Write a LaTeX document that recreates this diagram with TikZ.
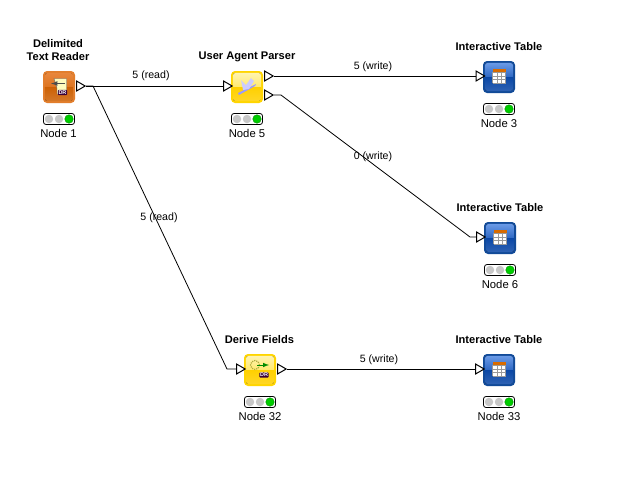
\documentclass[tikz,border=0pt]{standalone}
\usepackage{fontspec}
\setmainfont{Liberation Sans}
\usetikzlibrary{shapes.geometric,calc}
\definecolor{orA}{HTML}{E8873C}\definecolor{orB}{HTML}{DD7420}\definecolor{orC}{HTML}{CC6004}\definecolor{orE}{HTML}{E27E2C}
\definecolor{yeA}{HTML}{FFF4B0}\definecolor{yeB}{HTML}{FFE96E}\definecolor{yeC}{HTML}{FFD000}\definecolor{yeE}{HTML}{FFD500}
\definecolor{blA}{HTML}{6A9AE6}\definecolor{blB}{HTML}{2F68C4}\definecolor{blC}{HTML}{0A47A6}\definecolor{blE}{HTML}{114A98}
\tikzset{
  x=1pt,y=-1pt,
  iconbox/.style={draw=none,minimum size=32pt,inner sep=0pt,rounded corners=4pt},
  titlelabel/.style={font=\bfseries\fontsize{11.1}{13}\selectfont,inner sep=0pt,align=center,text=black},
  nodelabel/.style={font=\fontsize{11.3}{13}\selectfont,inner sep=0pt},
  edgelabel/.style={font=\fontsize{10.6}{12}\selectfont,inner sep=0pt},
  portin/.style={isosceles triangle,isosceles triangle apex angle=60,draw=black,fill=white,line width=1pt,inner sep=0pt,minimum height=8.5pt},
  wire/.style={draw=black,line width=.8pt},
  lightbox/.style={draw=black,fill=white,line width=.8pt,rounded corners=2.5pt,minimum width=31pt,minimum height=11pt,inner sep=0pt},
  lamp/.style={circle,inner sep=0pt,minimum size=8.5pt,fill=#1},
}
% name, centre x, centre y, colour prefix
\newcommand{\knimeicon}[4]{%
  \node[iconbox,fill=#4E] (#1) at (#2,#3) {};
  \begin{scope}
    \clip[rounded corners=3pt] ($(#1.north west)+(2,2)$) rectangle ($(#1.south east)+(-2,-2)$);
    \fill[top color=#4A,bottom color=#4B] ($(#1.north west)+(2,2)$) rectangle ($(#1.east)+(-2,0)$);
    \fill[top color=#4C,bottom color=#4C!85!white] ($(#1.west)+(2,0)$) rectangle ($(#1.south east)+(-2,-2)$);
  \end{scope}
}
\newcommand{\knimelight}[3]{%
  \node[lightbox] (#1) at (#2,#3) {};
  \node[lamp=black!22] (#1a) at ($(#1.center)+(-10,0)$) {};
  \node[lamp=black!22] (#1b) at ($(#1.center)+(0,0)$) {};
  \node[lamp=green!80!black,draw=green!55!black,line width=.4pt] (#1c) at ($(#1.center)+(10,0)$) {};
}
\newcommand{\tableglyph}[1]{%
  \fill[orange!85!black] ($(#1.center)+(-6.5,-8)$) rectangle ($(#1.center)+(6.5,-5)$);
  \fill[white] ($(#1.center)+(-6.5,-5)$) rectangle ($(#1.center)+(6.5,6)$);
  \foreach \dx in {-6.5,-2.2,2.2,6.5}
    \draw[black!40,line width=.4pt] ($(#1.center)+(\dx,-5)$) -- ($(#1.center)+(\dx,6)$);
  \foreach \dy in {-5,-1.3,2.3,6}
    \draw[black!40,line width=.4pt] ($(#1.center)+(-6.5,\dy)$) -- ($(#1.center)+(6.5,\dy)$);
}
\newcommand{\drbadge}[3]{%
  \node[fill=#3,text=white,font=\bfseries\fontsize{5.5}{5.5}\selectfont,inner sep=.7pt,rounded corners=1pt] (#1dr) at ($(#1.center)+(#2)$) {DR};
}
\begin{document}
\begin{tikzpicture}
\useasboundingbox (0,0) rectangle (633,496);
\fill[white] (0,0) rectangle (633,496);

% icons
\knimeicon{n1}{59}{87}{or}
\knimeicon{n5}{247}{87}{ye}
\knimeicon{n3}{499}{77}{bl}
\knimeicon{n6}{500}{238}{bl}
\knimeicon{n32}{260}{370}{ye}
\knimeicon{n33}{499}{370}{bl}

% glyphs
\fill[yellow!25!white,draw=black!60,line width=.4pt] ($(n1.center)+(-5,-8.5)$) -- ($(n1.center)+(7.5,-8.5)$) -- ($(n1.center)+(7.5,7)$) -- ($(n1.center)+(-2,7)$) -- ($(n1.center)+(-2,1)$) -- cycle;
\draw[black!70,line width=1.2pt,-latex] ($(n1.center)+(6,-3.5)$) -- ($(n1.center)+(-8,-3.5)$);
\drbadge{n1}{3.5,5.5}{black!55!violet}
\fill[blue!40!white] ($(n5.center)+(-9,6)$) -- ($(n5.center)+(9,-3)$) -- ($(n5.center)+(8,-1)$) -- ($(n5.center)+(-8,8)$) -- cycle;
\fill[white!80!blue] ($(n5.center)+(-4,3)$) -- ($(n5.center)+(-6,-7)$) -- ($(n5.center)+(-1,-2)$) -- ($(n5.center)+(4,-9)$) -- ($(n5.center)+(7,-6)$) -- ($(n5.center)+(2,2)$) -- cycle;
\draw[yellow!65!black,densely dotted,line width=1.2pt] ($(n32.center)+(-5,-5)$) circle (4.5);
\draw[green!55!black,line width=1pt,-latex] ($(n32.center)+(-3,-5)$) -- ($(n32.center)+(9,-5)$);
\drbadge{n32}{4,5}{black!55!violet}
\tableglyph{n3}
\tableglyph{n6}
\tableglyph{n33}

% connector helpers: waypoints
\coordinate (j1) at (93,86);
\coordinate (j2) at (227,369);
\coordinate (j3) at (281,95);
\coordinate (j4) at (470,237);

% ports
\node[portin] (n1out) at (79.5,86) {};
\node[portin] (n5in) at (226.5,86) {};
\node[portin] (n5outa) at (267.5,76) {};
\node[portin] (n5outb) at (267.5,95) {};
\node[portin] (n3in) at (479,76) {};
\node[portin] (n6in) at (479.5,237) {};
\node[portin] (n32in) at (239.5,369) {};
\node[portin] (n32out) at (280.5,369) {};
\node[portin] (n33in) at (478.5,369) {};

% connectors
\draw[wire] (n1out.apex) -- (n5in.west);
\draw[wire] (n1out.apex) -- (j1) -- (j2) -- (n32in.west);
\draw[wire] (n5outa.apex) -- (n3in.west);
\draw[wire] (n5outb.apex) -- (j3) -- (j4) -- (n6in.west);
\draw[wire] (n32out.apex) -- (n33in.west);

% lights
\knimelight{l1}{59}{119}
\knimelight{l5}{247}{119}
\knimelight{l3}{499}{109}
\knimelight{l6}{500}{270}
\knimelight{l32}{260}{402}
\knimelight{l33}{499}{402}

% titles
\node[titlelabel] (t1) at (58,50.5) {Delimited\\Text Reader};
\node[titlelabel] (t5) at (247,57) {User Agent Parser};
\node[titlelabel] (t3) at (499,47) {Interactive Table};
\node[titlelabel] (t6) at (500,208) {Interactive Table};
\node[titlelabel] (t32) at (259.5,340) {Derive Fields};
\node[titlelabel] (t33) at (499,340) {Interactive Table};

% node labels
\node[nodelabel] (c1) at (58.5,133.5) {Node 1};
\node[nodelabel] (c5) at (247,133.5) {Node 5};
\node[nodelabel] (c3) at (499,123.5) {Node 3};
\node[nodelabel] (c6) at (500,284.5) {Node 6};
\node[nodelabel] (c32) at (260,416.5) {Node 32};
\node[nodelabel] (c33) at (499,416.5) {Node 33};

% edge labels
\node[edgelabel] (e1) at (151,76) {5 (read)};
\node[edgelabel] (e2) at (373,67) {5 (write)};
\node[edgelabel] (e3) at (373,157) {0 (write)};
\node[edgelabel] (e4) at (159,218) {5 (read)};
\node[edgelabel] (e5) at (379,360) {5 (write)};
\end{tikzpicture}
\end{document}
